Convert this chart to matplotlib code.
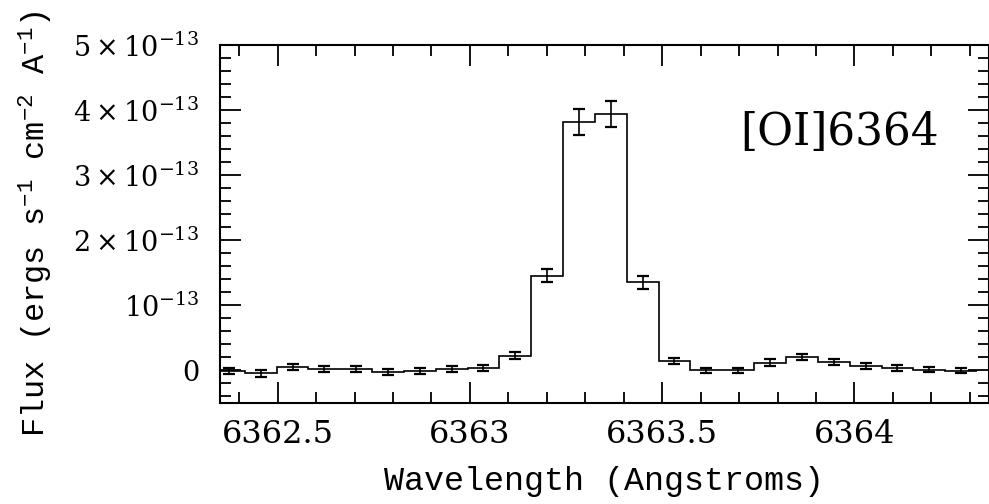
import numpy as np
import matplotlib
matplotlib.use('Agg')
import matplotlib.pyplot as plt
from matplotlib.ticker import FixedLocator, MultipleLocator, FixedFormatter

# bin centres (Angstroms), flux and 1-sigma errors (units of 1e-13 ergs/s/cm^2/A)
wavelength = [6362.373, 6362.456, 6362.539, 6362.621, 6362.704, 6362.787,
              6362.870, 6362.953, 6363.035, 6363.118, 6363.201, 6363.284,
              6363.367, 6363.449, 6363.532, 6363.615, 6363.698, 6363.781,
              6363.863, 6363.946, 6364.029, 6364.112, 6364.195, 6364.277]
flux = [-0.01, -0.05, 0.05, 0.015, 0.015, -0.03,
        -0.01, 0.02, 0.03, 0.225, 1.45, 3.82,
        3.94, 1.35, 0.14, 0.0, 0.0, 0.115,
        0.20, 0.12, 0.07, 0.04, 0.01, -0.01]
flux_err = [0.045, 0.05, 0.05, 0.045, 0.045, 0.045,
            0.045, 0.045, 0.05, 0.06, 0.10, 0.20,
            0.20, 0.10, 0.05, 0.04, 0.04, 0.05,
            0.05, 0.045, 0.045, 0.045, 0.04, 0.04]

ytick_vals = [0, 1e-13, 2e-13, 3e-13, 4e-13, 5e-13]
ytick_labels = ['0', r'$10^{-13}$', r'$2\times10^{-13}$', r'$3\times10^{-13}$',
                r'$4\times10^{-13}$', r'$5\times10^{-13}$']
xtick_vals = [6362.5, 6363, 6363.5, 6364]
xtick_labels = ['6362.5', '6363', '6363.5', '6364']

plt.rcParams['mathtext.fontset'] = 'dejavuserif'
plt.rcParams['mathtext.rm'] = 'Liberation Mono'
plt.rcParams['mathtext.it'] = 'Liberation Mono'

wl = np.array(wavelength)
f = np.array(flux) * 1e-13
ferr = np.array(flux_err) * 1e-13

# bin edges from the centres
mids = (wl[1:] + wl[:-1]) / 2
edges = np.concatenate([[wl[0] - (mids[0] - wl[0])], mids, [wl[-1] + (wl[-1] - mids[-1])]])

fig = plt.figure(figsize=(9.89, 5.04), dpi=100)
ax = fig.add_axes([0.2224, 0.2010, 0.7776, 0.7097])

ax.stairs(f, edges, baseline=None, color='black', linewidth=1.2)
ax.errorbar(wl, f, yerr=ferr, fmt='none', ecolor='black', elinewidth=1.2,
            capsize=4.5, capthick=1.6)

ax.set_xlim(6362.35, 6364.35)
ax.set_ylim(-0.5e-13, 5e-13)

ax.xaxis.set_major_locator(FixedLocator(xtick_vals))
ax.xaxis.set_major_formatter(FixedFormatter(xtick_labels))
ax.xaxis.set_minor_locator(MultipleLocator(0.1))
ax.yaxis.set_major_locator(FixedLocator(ytick_vals))
ax.yaxis.set_major_formatter(FixedFormatter(ytick_labels))
ax.yaxis.set_minor_locator(MultipleLocator(0.2e-13))

ax.tick_params(which='both', direction='in', top=True, right=True, color='black')
ax.tick_params(which='major', length=15, width=1.3)
ax.tick_params(which='minor', length=7.7, width=1.3)
ax.tick_params(axis='x', which='major', pad=11.5)
ax.tick_params(axis='y', which='major', pad=15)
for lbl in ax.get_xticklabels():
    lbl.set_family('DejaVu Serif')
    lbl.set_fontsize(23)
for lbl in ax.get_yticklabels():
    lbl.set_family('DejaVu Serif')
    lbl.set_fontsize(19.5)

for s in ax.spines.values():
    s.set_linewidth(1.5)

ax.set_xlabel('Wavelength (Angstroms)', family='Liberation Mono', fontsize=24)
ax.xaxis.set_label_coords(0.5, -0.177)
ax.set_ylabel(r'Flux (ergs s$^{-1}$ cm$^{-2}$ A$^{-1}$)', family='Liberation Mono',
              fontsize=23, math_fontfamily='custom')
ax.yaxis.set_label_coords(-0.2146, 0.5)

ax.text(0.806, 0.7204, '[OI]6364', transform=ax.transAxes, ha='center', va='baseline',
        family='DejaVu Serif', fontsize=31.5)

fig.savefig('out.png', dpi=100)
